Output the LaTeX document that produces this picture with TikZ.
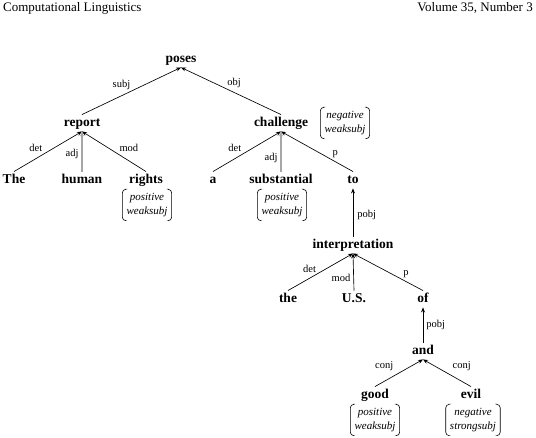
\documentclass[tikz,border=0pt]{standalone}
\usepackage{fontspec}
\setmainfont{Liberation Serif}
\usetikzlibrary{arrows.meta}
\newcommand{\polarity}[2]{\begin{tabular}{@{}c@{}}\itshape #1\\\itshape #2\end{tabular}}

\begin{document}
\begin{tikzpicture}[x=1pt, y=-1pt,
  hdr/.style={font=\fontsize{13}{15}\selectfont, inner sep=0pt},
  word/.style={font=\fontsize{13.5}{16}\selectfont\bfseries,
               text height=9.5pt, text depth=3pt, inner sep=2pt},
  bracket/.style={line width=0.6pt, rounded corners=3.5pt},
  pol/.style={font=\fontsize{11}{13.5}\selectfont, inner xsep=4pt, inner ysep=2pt,
              append after command={\pgfextra{
                \draw[bracket] ([xshift=3pt]\tikzlastnode.north west) -- (\tikzlastnode.north west)
                  -- (\tikzlastnode.south west) -- ([xshift=3pt]\tikzlastnode.south west);
                \draw[bracket] ([xshift=-3pt]\tikzlastnode.north east) -- (\tikzlastnode.north east)
                  -- (\tikzlastnode.south east) -- ([xshift=-3pt]\tikzlastnode.south east);}}},
  rel/.style={font=\fontsize{10.5}{12}\selectfont, inner sep=1pt},
  arr/.style={-{Stealth[length=5pt,width=4pt]}, line width=0.65pt},
  garr/.style={arr, draw=gray!70, line width=1.1pt}
]
  \useasboundingbox (0,0) rectangle (536,438);
  % running head
  \node[hdr, anchor=base west] (journal) at (3,12) {Computational Linguistics};
  \node[hdr, anchor=base east] (issue) at (533,12) {Volume 35, Number 3};
  % words
  \node[word] (poses) at (181,59) {poses};
  \node[word] (report) at (82,123) {report};
  \node[word] (challenge) at (281,123) {challenge};
  \node[pol] (chpol) at (345,123) {\polarity{negative}{weaksubj}};
  \node[word] (the1) at (14,180) {The};
  \node[word] (human) at (82,180) {human};
  \node[word] (rights) at (146,180) {rights};
  \node[pol] (rpol) at (147,205) {\polarity{positive}{weaksubj}};
  \node[word] (a) at (213,180) {a};
  \node[word] (subst) at (281,180) {substantial};
  \node[pol] (spol) at (282,205) {\polarity{positive}{weaksubj}};
  \node[word] (to) at (353,180) {to};
  \node[word] (interp) at (353,245) {interpretation};
  \node[word] (the2) at (288,299) {the};
  \node[word] (us) at (354,299) {U.S.};
  \node[word] (of) at (423,299) {of};
  \node[word] (and) at (423,351) {and};
  \node[word] (good) at (375,395) {good};
  \node[pol] (gpol) at (375,420) {\polarity{positive}{weaksubj}};
  \node[word] (evil) at (471,395) {evil};
  \node[pol] (epol) at (473,420) {\polarity{negative}{strongsubj}};
  % dependencies
  \draw[arr] (report.north) -- node[rel, above left=0pt, pos=0.5]{subj} (poses.south);
  \draw[arr] (challenge.north) -- node[rel, above right=0pt, pos=0.55]{obj} (poses.south);
  \draw[arr] (the1.north) -- node[rel, above left=1pt, pos=0.45]{det} (report.south);
  \draw[garr] (human.north) -- node[rel, left=2pt, pos=0.45]{adj} (report.south);
  \draw[arr] (rights.north) -- node[rel, above right=1pt, pos=0.45]{mod} (report.south);
  \draw[arr] (a.north) -- node[rel, above left=1pt, pos=0.45]{det} (challenge.south);
  \draw[garr] (subst.north) -- node[rel, left=2pt, pos=0.35]{adj} (challenge.south);
  \draw[arr] (to.north) -- node[rel, above right=0pt, pos=0.3]{p} (challenge.south);
  \draw[arr] (interp.north) -- node[rel, right=3pt, pos=0.45]{pobj} (to.south);
  \draw[arr] (the2.north) -- node[rel, above left=0pt, pos=0.45]{det} (interp.south);
  \draw[arr] (us.north) -- node[rel, left=2pt, pos=0.35]{mod} (interp.south);
  \draw[arr] (of.north) -- node[rel, above right=0pt, pos=0.3]{p} (interp.south);
  \draw[arr] (and.north) -- node[rel, right=2pt, pos=0.5]{pobj} (of.south);
  \draw[arr] (good.north) -- node[rel, above left=2pt, pos=0.45]{conj} (and.south);
  \draw[arr] (evil.north) -- node[rel, above right=2pt, pos=0.45]{conj} (and.south);
\end{tikzpicture}
\end{document}
